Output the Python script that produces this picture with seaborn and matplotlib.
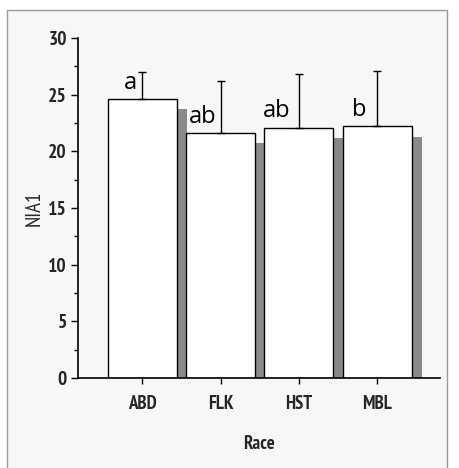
import matplotlib
matplotlib.use("Agg")
import matplotlib.pyplot as plt
import seaborn as sns
import pandas as pd
import numpy as np
from matplotlib.patches import Rectangle
from matplotlib.ticker import MultipleLocator

races = ["ABD", "FLK", "HST", "MBL"]
means = [24.6, 21.6, 22.1, 22.2]
errors = [2.4, 4.6, 4.7, 4.9]
letters = ["a", "ab", "ab", "b"]

sns.set_theme(style="white")
plt.rcParams['font.family'] = ['PT Sans Narrow', 'Liberation Sans', 'DejaVu Sans']

fig = plt.figure(figsize=(4.6, 4.68), dpi=100)
fig.patch.set_facecolor("white")
# outer frame panel
fig.add_artist(Rectangle((7/460, -0.01), 440/460, 1 - 10/468 + 0.01, transform=fig.transFigure,
                         facecolor="#f7f7f7", edgecolor="#9a9a9a", lw=1.0, zorder=0))

ax = fig.add_axes([78/460, 1 - 378/468, 362/460, 340/468])
ax.set_facecolor("none")

df = pd.DataFrame({"Race": races, "NIA1": means})

# drop shadows
xs = np.arange(len(races))
ax.bar(xs + 0.13, np.array(means) - 0.9, width=0.88, color="#8a8a8a", edgecolor="none", zorder=1)

sns.barplot(data=df, x="Race", y="NIA1", color="white", edgecolor="black", linewidth=1.0,
            width=0.88, errorbar=None, ax=ax, zorder=2, saturation=1)
for p in ax.patches:
    p.set_zorder(2)

ax.errorbar(xs, means, yerr=[np.zeros(len(means)), errors], fmt="none", ecolor="black",
            elinewidth=1.0, capsize=3, capthick=1.0, zorder=3)

offs = [-0.15, -0.23, -0.29, -0.23]
for i, (m, l) in enumerate(zip(means, letters)):
    ax.text(i + offs[i], m + 0.9, l, ha="center", va="baseline", fontsize=17,
            family=['Open Sans', 'DejaVu Sans'], color="black", zorder=4)

ax.set_xlim(-0.82, 3.80)
ax.set_ylim(0, 30)
ax.yaxis.set_major_locator(MultipleLocator(5))
ax.yaxis.set_minor_locator(MultipleLocator(2.5))
sns.despine(ax=ax)
ax.spines["left"].set_bounds(0, 30)
for s in ["left", "bottom"]:
    ax.spines[s].set_color("black")
    ax.spines[s].set_linewidth(1.2)
ax.tick_params(axis="y", which="major", left=True, length=5, width=1, color="black",
               labelsize=14, pad=3)
ax.tick_params(axis="y", which="minor", left=True, length=3, width=1, color="black")
ax.tick_params(axis="x", bottom=True, length=4, width=1, color="black", labelsize=13.5, pad=8)
for t in ax.get_yticklabels():
    t.set_fontweight("bold")
for t in ax.get_xticklabels():
    t.set_fontweight("bold")

ax.set_xlabel("Race", fontsize=13.5, fontweight="bold", labelpad=16)
ax.set_ylabel("NIA1", fontsize=15, labelpad=3)

fig.savefig("out.png", dpi=100, facecolor=fig.get_facecolor())
